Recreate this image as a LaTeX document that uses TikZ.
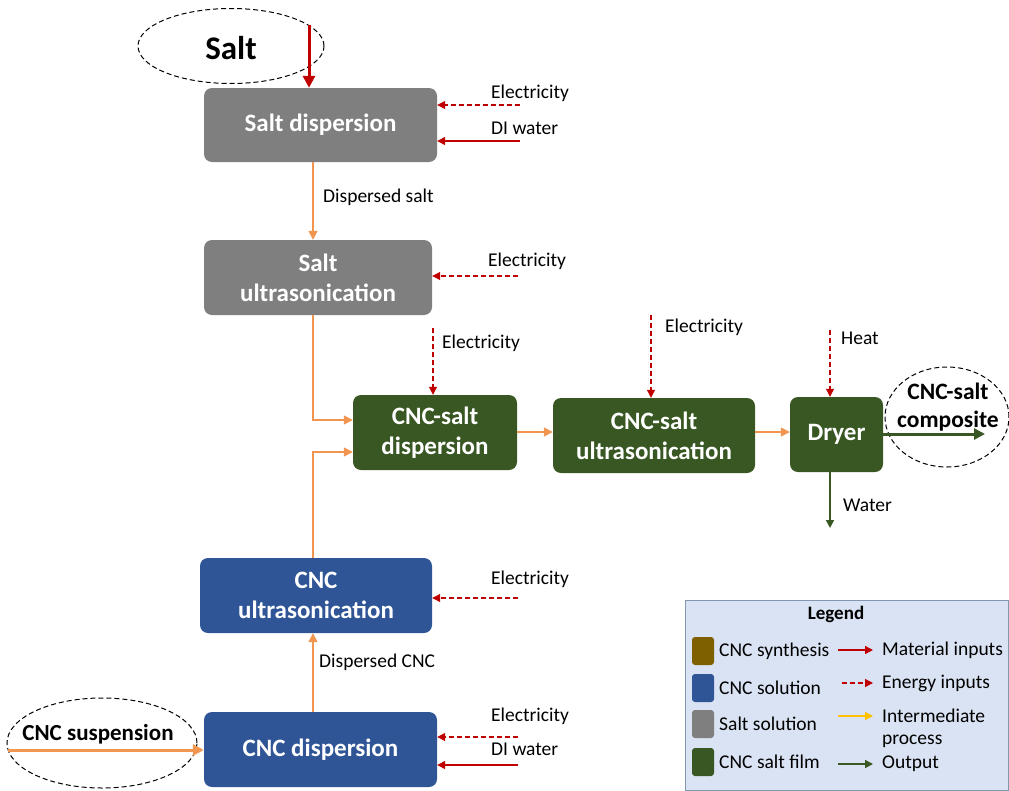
\documentclass[tikz,border=0pt]{standalone}
\usepackage{fontspec}
\setmainfont{Carlito}
\usetikzlibrary{arrows.meta,shapes.geometric}
\definecolor{cgray}{RGB}{127,127,127}
\definecolor{cgreen}{RGB}{56,87,35}
\definecolor{cblue}{RGB}{47,85,151}
\definecolor{cbrown}{RGB}{127,96,0}
\definecolor{cred}{RGB}{192,0,0}
\definecolor{corange}{RGB}{240,150,80}
\definecolor{cyellow}{RGB}{255,192,0}
\definecolor{legfill}{RGB}{218,227,243}
\definecolor{legdraw}{RGB}{132,151,176}
\tikzset{
  proc/.style={rounded corners=8pt, text=white, font=\fontsize{25}{30}\selectfont\bfseries, align=center, inner sep=0pt},
  lab/.style={font=\fontsize{19.5}{22}\selectfont, anchor=west, inner sep=0pt},
  energy/.style={cred, dashed, line width=1.2pt, dash pattern=on 5pt off 3pt, -{Triangle[length=8pt,width=8pt]}},
  material/.style={cred, line width=1.4pt, -{Triangle[length=8pt,width=8pt]}},
  inter/.style={corange, line width=1.6pt, -{Triangle[length=9pt,width=9pt]}},
  outp/.style={cgreen, line width=1.5pt, -{Triangle[length=8pt,width=8pt]}},
  oval/.style={draw=black, dashed, dash pattern=on 5pt off 3pt, line width=1pt, ellipse},
}
\begin{document}
\begin{tikzpicture}[x=1pt,y=-1pt]
\useasboundingbox (0,0) rectangle (1009,790);
% boxes
\node[proc, fill=cgray, minimum width=233pt, minimum height=74pt] (sd) at (320.5,125) {Salt dispersion};
\node[proc, fill=cgray, minimum width=228pt, minimum height=75pt] (su) at (318,277.5) {Salt\\ultrasonication};
\node[proc, fill=cgreen, minimum width=164pt, minimum height=75pt] (csd) at (435,432.5) {CNC-salt\\dispersion};
\node[proc, fill=cgreen, minimum width=202pt, minimum height=75pt] (csu) at (654,435.5) {CNC-salt\\ultrasonication};
\node[proc, fill=cgreen, minimum width=93pt, minimum height=75pt] (dry) at (836.5,434.5) {Dryer};
\node[proc, fill=cblue, minimum width=232pt, minimum height=75pt] (cu) at (316,595.5) {CNC\\ultrasonication};
\node[proc, fill=cblue, minimum width=233pt, minimum height=75pt] (cd) at (320.5,749.5) {CNC dispersion};

% Salt input
\node[oval, minimum width=186pt, minimum height=75pt] (salto) at (231,46) {};
\node[font=\fontsize{33}{36}\selectfont\bfseries] (saltt) at (231,48) {Salt};
\coordinate (saltin) at (309,25);
\draw[cred, line width=3pt, -{Triangle[length=12pt,width=12pt]}] (saltin) -- (saltin |- sd.north);

% salt dispersion inputs
\coordinate (e1) at (520,105);
\coordinate (w1) at (520,141);
\draw[energy] (e1) -- (e1 -| sd.east);
\draw[material] (w1) -- (w1 -| sd.east);
\node[lab] (le1) at (491,93) {Electricity};
\node[lab] (lw1) at (491,128) {DI water};

% salt dispersion -> ultrasonication
\coordinate (c1) at (313,0);
\draw[inter] (sd.south -| c1) -- (su.north -| c1);
\node[lab] (lds) at (323,197) {Dispersed salt};

\coordinate (e2) at (518,276);
\draw[energy] (e2) -- (e2 -| su.east);
\node[lab] (le2) at (488,261) {Electricity};

% to CNC-salt dispersion
\coordinate (r1) at (0,420);
\coordinate (r2) at (0,452);
\draw[inter] (su.south -| c1) |- (csd.west |- r1);
\draw[inter] (cu.north -| c1) |- (csd.west |- r2);

\coordinate (e3) at (433,328);
\draw[energy] (e3) -- (e3 |- csd.north);
\node[lab] (le3) at (442,343) {Electricity};

\coordinate (r3) at (0,432);
\draw[inter] (csd.east |- r3) -- (csu.west |- r3);
\coordinate (e4) at (651,315);
\draw[energy] (e4) -- (e4 |- csu.north);
\node[lab] (le4) at (665,327) {Electricity};

\draw[inter] (csu.east |- r3) -- (dry.west |- r3);
\coordinate (h1) at (830,330);
\draw[energy] (h1) -- (h1 |- dry.north);
\node[lab] (lh) at (841,338) {Heat};

% output
\node[oval, minimum width=124pt, minimum height=100pt] (compo) at (947,417) {};
\node[font=\fontsize{23.5}{28}\selectfont\bfseries, align=center] (compt) at (948,407) {CNC-salt\\composite};
\coordinate (outend) at (985,434);
\draw[cgreen, line width=3pt, -{Triangle[length=11pt,width=11pt]}] (dry.east |- outend) -- (outend);
\coordinate (wat) at (830,528);
\draw[outp] (wat |- dry.south) -- (wat);
\node[lab] (lwat) at (843,505) {Water};

% CNC ultrasonication
\coordinate (e5) at (518,598);
\draw[energy] (e5) -- (e5 -| cu.east);
\node[lab] (le5) at (491,579) {Electricity};

\draw[inter] (cd.north -| c1) -- (cu.south -| c1);
\node[lab] (ldc) at (319,662) {Dispersed CNC};

\coordinate (e6) at (518,737);
\coordinate (w6) at (518,765);
\draw[energy] (e6) -- (e6 -| cd.east);
\draw[material] (w6) -- (w6 -| cd.east);
\node[lab] (le6) at (491,716) {Electricity};
\node[lab] (lw6) at (491,749) {DI water};

% CNC suspension
\node[oval, minimum width=190pt, minimum height=90pt] (susp) at (102,743) {};
\node[font=\fontsize{23}{26}\selectfont\bfseries] (suspt) at (98,734) {CNC suspension};
\coordinate (sin) at (8,750);
\draw[corange, line width=3pt, -{Triangle[length=11pt,width=11pt]}] (sin) -- (sin -| cd.west);

% Legend
\node[draw=legdraw, fill=legfill, line width=1pt, minimum width=323pt, minimum height=190pt, inner sep=0pt] (leg) at (846.5,695) {};
\node[font=\fontsize{19}{22}\selectfont\bfseries] (legt) at (836,614) {Legend};
\tikzset{sw/.style={rounded corners=3pt, minimum width=22pt, minimum height=28pt, inner sep=0pt}}
\node[sw, fill=cbrown] (s1) at (703,651) {};
\node[sw, fill=cblue] (s2) at (703,688) {};
\node[sw, fill=cgray] (s3) at (703,724) {};
\node[sw, fill=cgreen] (s4) at (703,762) {};
\node[lab] (t1) at (719,651) {CNC synthesis};
\node[lab] (t2) at (719,688) {CNC solution};
\node[lab] (t3) at (719,724) {Salt solution};
\node[lab] (t4) at (719,762) {CNC salt film};
\coordinate (a1s) at (838,650); \coordinate (a1e) at (873,650);
\coordinate (a2s) at (842,683); \coordinate (a2e) at (873,683);
\coordinate (a3s) at (838,716); \coordinate (a3e) at (873,716);
\coordinate (a4s) at (838,764); \coordinate (a4e) at (873,764);
\draw[material] (a1s) -- (a1e);
\draw[energy] (a2s) -- (a2e);
\draw[cyellow, line width=1.4pt, -{Triangle[length=8pt,width=8pt]}] (a3s) -- (a3e);
\draw[outp] (a4s) -- (a4e);
\node[lab] (u1) at (882,650) {Material inputs};
\node[lab] (u2) at (882,683) {Energy inputs};
\node[lab, align=left] (u3) at (882,728) {Intermediate\\process};
\node[lab] (u4) at (882,764) {Output};
\end{tikzpicture}
\end{document}
